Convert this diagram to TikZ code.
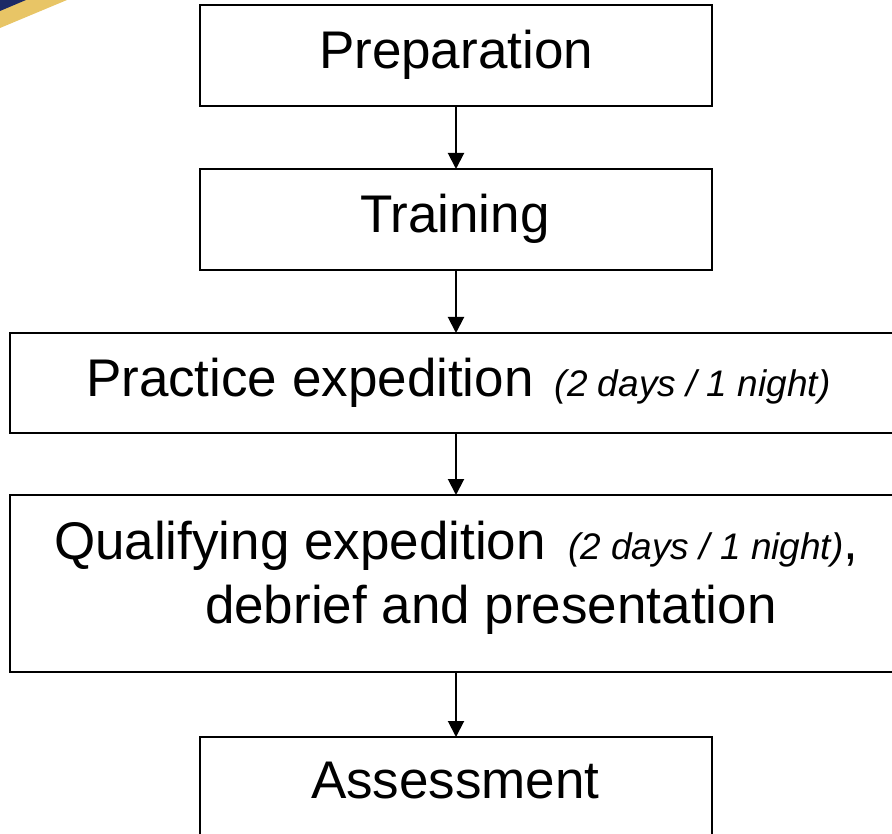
\documentclass[tikz,border=0pt]{standalone}
\usepackage{fontspec}
\setmainfont{Liberation Sans}
\usetikzlibrary{arrows.meta}
\definecolor{crestnavy}{HTML}{1C2A66}
\definecolor{crestgold}{HTML}{E8C566}
\newcommand{\smallit}[1]{{\fontsize{37}{44}\selectfont\itshape #1}}
\tikzset{
  stage/.style={draw=black,line width=1.8pt,fill=white,inner sep=0pt,outer sep=0pt,anchor=north west},
  lbl/.style={inner sep=0pt,outer sep=0pt,anchor=base west,text=black,font=\fontsize{53}{60}\selectfont},
  flow/.style={draw=black,line width=2pt,-{Triangle[length=16pt,width=16pt]}}
}
\begin{document}
\begin{tikzpicture}[x=1pt,y=-1pt]
\useasboundingbox (0,0) rectangle (892,834);
\fill[crestgold] (0,0) -- (67,0) -- (0,28) -- cycle;
\fill[crestnavy] (0,0) -- (26,0) -- (0,11) -- cycle;
\node[stage,minimum width=512pt,minimum height=101pt] (prep) at (200,5) {};
\node[stage,minimum width=512pt,minimum height=101pt] (train) at (200,169) {};
\node[stage,minimum width=900pt,minimum height=100pt] (prac) at (10,333) {};
\node[stage,minimum width=900pt,minimum height=177pt] (qual) at (10,495) {};
\node[stage,minimum width=512pt,minimum height=120pt] (assess) at (200,737) {};
\node[lbl] (tprep) at (319,69) {Preparation};
\node[lbl] (ttrain) at (360,233) {Training};
\node[lbl] (tprac) at (86,396) {Practice expedition\hspace{21pt}\smallit{(2 days / 1 night)}};
\node[lbl] (tqual) at (54,559) {Qualifying expedition\hspace{22pt}\smallit{(2 days / 1 night)},};
\node[lbl] (tdeb) at (205,623) {debrief and presentation};
\node[lbl] (tass) at (311,798) {Assessment};
\coordinate (a1) at (456,106);
\draw[flow] (prep.south -| a1) -- (train.north -| a1);
\draw[flow] (train.south -| a1) -- (prac.north -| a1);
\draw[flow] (prac.south -| a1) -- (qual.north -| a1);
\draw[flow] (qual.south -| a1) -- (assess.north -| a1);
\end{tikzpicture}
\end{document}
